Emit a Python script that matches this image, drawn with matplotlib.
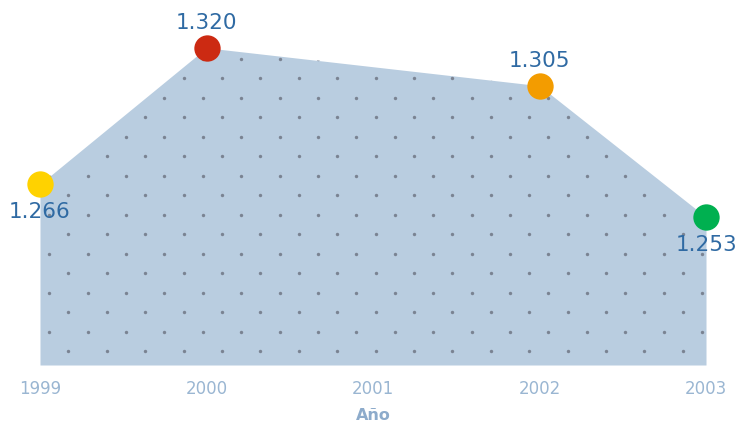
import matplotlib.pyplot as plt
import numpy as np

# data
years = [1999, 2000, 2002, 2003]
values = [1.266, 1.320, 1.305, 1.253]
labels = ['1.266', '1.320', '1.305', '1.253']
colors = ['#ffd200', '#cc2a12', '#f39c00', '#00b050']
label_above = [False, True, True, False]
tick_years = [1999, 2000, 2001, 2002, 2003]

fig = plt.figure(figsize=(7.4, 4.27), dpi=100)
ax = fig.add_axes([40/740, 61/427, 666/740, 346/427])

ax.set_xlim(1999, 2003)
ax.set_ylim(1.1944, 1.3314)

base = ax.get_ylim()[0]
area = ax.fill_between(years, values, base, color='#b9cde0', lw=0, zorder=1)

# dotted texture inside the area
xs, ys = [], []
for k in range(20):
    yy = (14 + 19.5*k) / 346
    off = 0 if k % 2 == 0 else -19.2
    for j in range(-1, 20):
        xs.append((28.3 + off + 38.4*j) / 666)
        ys.append(yy)
dots = ax.scatter(xs, ys, s=6, c='#7a8392', lw=0, transform=ax.transAxes, zorder=2)
dots.set_clip_path(area.get_paths()[0], area.get_transform())

for x, v, c in zip(years, values, colors):
    ax.scatter([x], [v], s=360, color=c, lw=0, zorder=4, clip_on=False)

for x, v, t, up in zip(years, values, labels, label_above):
    dy = 26 if up else -27
    ax.annotate(t, (x, v), xytext=(0, dy), textcoords='offset pixels',
                ha='center', va='center', fontsize=15.5, color='#2f6aa3',
                zorder=5, annotation_clip=False)

ax.set_xticks(tick_years)
ax.set_xticklabels([str(y) for y in tick_years])
ax.tick_params(axis='x', length=0, pad=10, labelsize=12, labelcolor='#9ab6d2')
ax.set_yticks([])
for s in ax.spines.values():
    s.set_visible(False)

ax.set_xlabel('Año', fontsize=11.5, fontweight='bold', color='#8dabcb', labelpad=7)

fig.savefig('out.png', dpi=100)
